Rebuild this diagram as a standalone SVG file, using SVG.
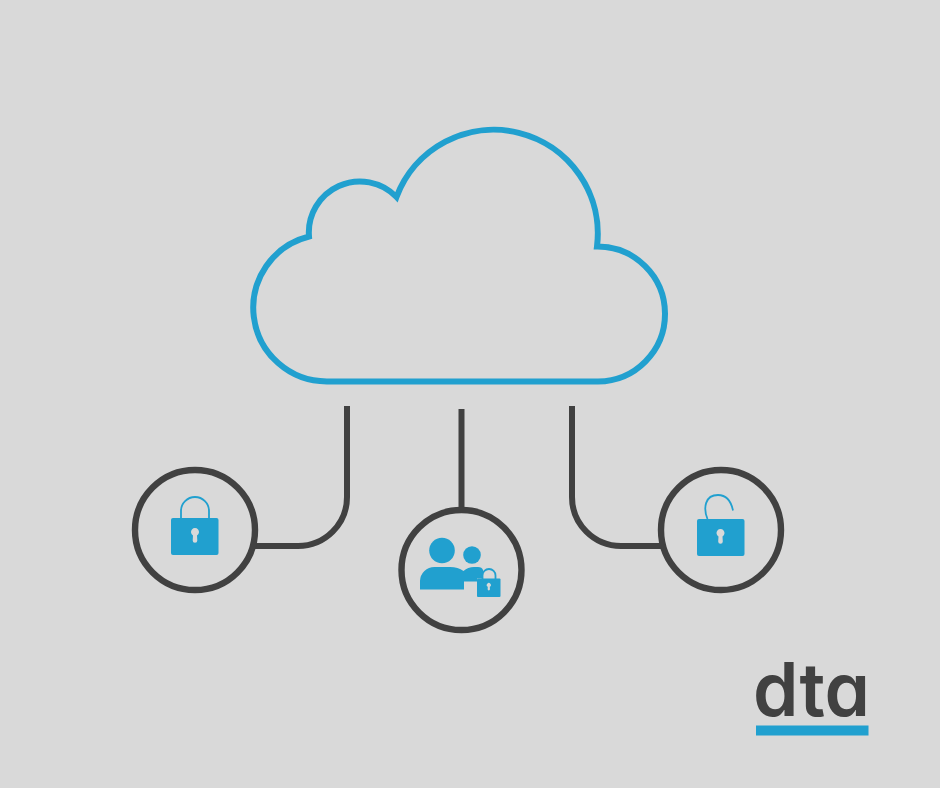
<svg xmlns="http://www.w3.org/2000/svg" width="940" height="788" viewBox="0 0 940 788">
<style>
.ring{fill:none;stroke:#414141;stroke-width:6.400}
.wire{fill:none;stroke:#414141;stroke-width:6}
.blue{fill:#21a0cf}
.shackle{fill:none;stroke:#21a0cf;stroke-width:1.800}
.hole{fill:#d9d9d9}
</style>
<defs>
<path id="keyhole" d="M-2 2.500A4 4 0 1 1 2 2.500L2.300 7.500A2.300 2.300 0 0 1 -2.300 7.500Z"/>
</defs>
<rect width="940" height="788" fill="#d9d9d9"/>
<g id="connectors">
<path class="wire" d="M347 406V497A49 49 0 0 1 298 546H254"/>
<path class="wire" d="M461.500 409V509"/>
<path class="wire" d="M572 406V497A49 49 0 0 0 621 546H662"/>
</g>
<g id="cloud">
<path fill="none" stroke="#21a0cf" stroke-width="6" stroke-miterlimit="10" d="M327 381.500A73.600 73.600 0 0 1 309 236.500A51 51 0 0 1 396.500 197A104 104 0 0 1 597 246.500A67.500 67.500 0 0 1 598 381.500Z"/>
</g>
<g id="node-locked">
<circle class="ring" cx="195" cy="530" r="60"/>
<path class="shackle" d="M181 518V511A14 14 0 0 1 209 511V518"/>
<rect class="blue" x="171" y="518" width="47.500" height="37" rx="2"/>
<use href="#keyhole" class="hole" x="195" y="533"/>
</g>
<g id="node-users">
<circle class="ring" cx="461.500" cy="570" r="60"/>
<circle class="blue" cx="442" cy="550.500" r="12.800"/>
<circle class="blue" cx="472" cy="555" r="8.800"/>
<path class="blue" d="M420 589.500V581A14.500 14.500 0 0 1 434.500 567H450Q458 567 463.500 571Q468 567 474 567H478Q482 567 483 570V578.500H477V581.500H464V589.500Z"/>
<path class="shackle" d="M482.500 579V575.500A6.500 6.500 0 0 1 495.500 575.500V579"/>
<rect class="blue" x="477" y="578.500" width="23.500" height="18.500" rx="1"/>
<use href="#keyhole" class="hole" transform="translate(488.800 585.500) scale(.5)"/>
</g>
<g id="node-unlocked">
<circle class="ring" cx="721" cy="530" r="60"/>
<path class="shackle" d="M707.500 519C703 508 705 495 718 495C726 495 731 501 733 510.500"/>
<rect class="blue" x="697" y="519" width="47.500" height="37" rx="2"/>
<use href="#keyhole" class="hole" x="720.500" y="534"/>
</g>
<g id="logo">
<text x="753" y="716" font-family="Inter, 'Open Sans', sans-serif" font-size="74" font-weight="600" fill="#414141" style="font-feature-settings:'cv11'" textLength="117" lengthAdjust="spacingAndGlyphs">dta</text>
<rect class="blue" x="756" y="725.500" width="112.500" height="10"/>
</g>
</svg>
